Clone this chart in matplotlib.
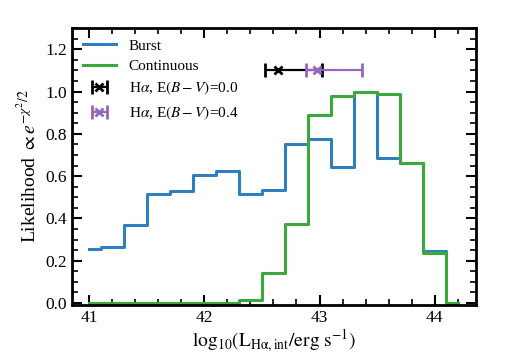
import numpy as np
import matplotlib.pyplot as plt
from matplotlib.ticker import MultipleLocator

plt.rcParams['font.family'] = ['Liberation Serif', 'DejaVu Serif']
plt.rcParams['mathtext.fontset'] = 'stix'

# bin centres of the likelihood histograms
logL = [41.0, 41.2, 41.4, 41.6, 41.8, 42.0, 42.2, 42.4, 42.6,
        42.8, 43.0, 43.2, 43.4, 43.6, 43.8, 44.0, 44.2]
burst = [0.255, 0.267, 0.368, 0.517, 0.528, 0.605, 0.623, 0.517, 0.535,
         0.753, 0.777, 0.645, 1.0, 0.684, 0.664, 0.245, 0.0]
continuous = [0.0, 0.0, 0.0, 0.0, 0.0, 0.0, 0.0, 0.015, 0.14,
              0.373, 0.89, 0.978, 1.0, 0.99, 0.664, 0.235, 0.0]

# H-alpha measurements (value, lower, upper) at y = 1.1
ha_y = 1.1
ha_ebv0 = (42.64, 42.53, 43.02)
ha_ebv04 = (42.98, 42.88, 43.37)


def main():
    fig = plt.figure(figsize=(5.07, 3.56), dpi=100)
    ax = fig.add_axes([0.142, 0.143, 0.797, 0.778])

    ax.step(logL, burst, where='mid', color='#2f7fbf', lw=2.2, label='Burst')
    ax.step(logL, continuous, where='mid', color='#3aa83a', lw=2.2, label='Continuous')

    for (v, lo, hi), c, lab in [(ha_ebv0, 'k', r'H$\alpha$, E$(B-V)$=0.0'),
                                (ha_ebv04, '#9467bd', r'H$\alpha$, E$(B-V)$=0.4')]:
        ax.errorbar([v], [ha_y], xerr=[[v - lo], [hi - v]], fmt='x', color=c,
                    ms=6, mew=2, elinewidth=1.6, capsize=5, capthick=1.6, label=lab)

    ax.set_xlim(40.85, 44.36)
    ax.set_ylim(-0.01, 1.3)
    ax.xaxis.set_major_locator(MultipleLocator(1))
    ax.xaxis.set_minor_locator(MultipleLocator(0.2))
    ax.yaxis.set_major_locator(MultipleLocator(0.2))
    ax.yaxis.set_minor_locator(MultipleLocator(0.05))
    ax.tick_params(which='both', direction='in', top=True, right=True, labelsize=12.5)
    ax.tick_params(which='major', length=7, width=1.5)
    ax.tick_params(which='minor', length=4, width=1.2)
    for s in ax.spines.values():
        s.set_linewidth(2)

    ax.set_xlabel(r'$\mathrm{log_{10}(L_{H\alpha,int}/erg\ s^{-1})}$', fontsize=14, labelpad=1)
    ax.set_ylabel(r'Likelihood $\propto e^{-\chi^2/2}$', fontsize=14)

    ax.legend(loc='upper left', frameon=False, fontsize=11, handlelength=2.2,
              borderaxespad=0.3, labelspacing=0.45)

    fig.savefig('out.png', dpi=100)


if __name__ == '__main__':
    main()
